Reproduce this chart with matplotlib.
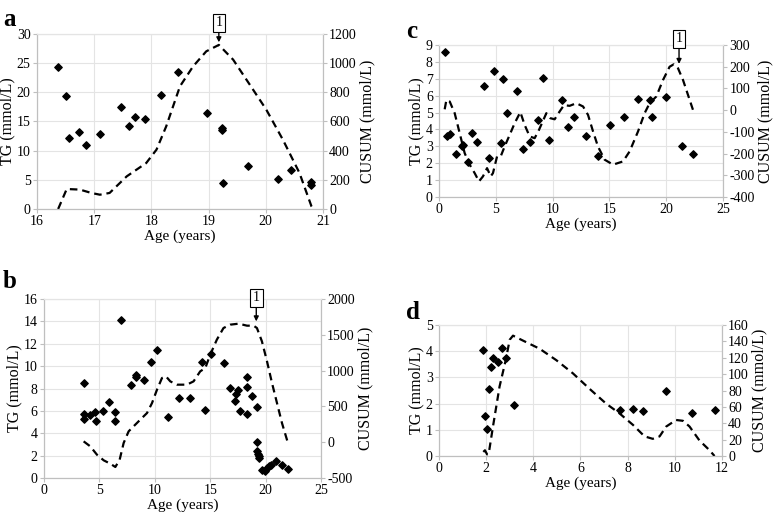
import numpy as np
import matplotlib
matplotlib.use("Agg")
import matplotlib.pyplot as plt

plt.rcParams['font.family'] = ['Liberation Serif', 'DejaVu Serif']
plt.rcParams['axes.unicode_minus'] = False

# panel a
a_age = [16.37, 16.50, 16.56, 16.73, 16.86, 17.11, 17.47, 17.61, 17.71, 17.89, 18.17,
         18.47, 18.98, 19.23, 19.23, 19.25, 19.69, 20.21, 20.45, 20.80, 20.80]
a_tg = [24.3, 19.3, 12.2, 13.2, 10.9, 12.8, 17.5, 14.3, 15.7, 15.4, 19.5,
        23.4, 16.4, 13.8, 13.5, 4.5, 7.4, 5.1, 6.6, 4.7, 4.1]
a_cx = [16.37, 16.52, 16.75, 16.95, 17.10, 17.27, 17.57, 17.91, 18.09, 18.26, 18.50,
        18.73, 18.96, 19.18, 19.43, 19.72, 20.01, 20.30, 20.59, 20.80, 20.83]
a_cy = [0, 137, 133, 110, 98, 110, 224, 315, 407, 567, 841,
        978, 1081, 1125, 1024, 853, 681, 475, 247, 18, 0]

# panel b
b_age = [3.58, 3.61, 3.61, 4.12, 4.63, 4.66, 5.29, 5.87, 6.38, 6.38, 6.95, 7.82, 8.27,
         8.30, 9.06, 9.63, 10.17, 11.19, 12.21, 13.21, 14.23, 14.53, 15.04, 16.28,
         16.79, 17.21, 17.36, 17.48, 17.72, 18.29, 18.29, 18.32, 18.80, 19.22, 19.25,
         19.25, 19.31, 19.37, 19.40, 19.67, 19.92, 20.13, 20.31, 20.49, 20.91, 21.48, 22.0]
b_tg = [8.49, 5.75, 5.30, 5.66, 5.87, 5.07, 5.99, 6.79, 5.90, 5.13, 14.09, 8.34, 9.24,
        9.03, 8.79, 10.37, 11.47, 5.48, 7.12, 7.12, 10.40, 6.08, 11.08, 10.31,
        8.02, 6.91, 7.54, 7.90, 5.96, 9.00, 8.10, 5.69, 7.33, 6.32, 3.19,
        2.44, 2.18, 1.94, 1.80, 0.74, 0.66, 0.86, 1.04, 1.16, 1.52, 1.19, 0.80]
b_cx = [3.58, 4.18, 4.78, 5.39, 5.99, 6.44, 6.83, 7.19, 7.64, 8.09, 8.69, 9.30, 9.75,
        10.20, 10.65, 11.01, 11.40, 12.0, 12.9, 13.5, 14.1, 14.56, 15.0, 15.6, 16.2,
        16.8, 17.57, 18.32, 18.92, 19.22, 19.67, 20.13, 20.58, 21.03, 21.48, 22.0]
b_cy = [12, -58, -174, -253, -300, -346, -244, -11, 152, 222, 315, 408, 547,
        734, 897, 920, 850, 804, 804, 850, 990, 1036, 1222, 1432, 1595,
        1642, 1656, 1628, 1628, 1595, 1409, 1129, 827, 547, 268, -2]

# panel c
c_age = [0.50, 0.70, 0.97, 1.47, 2.00, 2.10, 2.52, 2.88, 3.35, 3.93, 4.37, 4.87, 5.43,
         5.66, 5.96, 6.90, 7.42, 7.98, 8.71, 9.18, 9.65, 10.83, 11.38, 11.91, 12.94,
         13.99, 15.05, 16.28, 17.52, 18.57, 18.72, 19.98, 21.36, 22.36]
c_tg = [8.57, 3.62, 3.72, 2.52, 3.05, 3.10, 2.05, 3.82, 3.23, 6.58, 2.32, 7.44, 3.19,
        7.01, 4.96, 6.28, 2.86, 3.23, 4.55, 7.05, 3.35, 5.75, 4.16, 4.75, 3.60,
        2.44, 4.27, 4.73, 5.83, 5.75, 4.75, 5.93, 3.05, 2.56]
c_cx = [0.50, 0.65, 0.94, 1.38, 1.82, 2.26, 2.70, 3.14, 3.52, 3.87, 4.23, 4.55, 4.75,
        5.11, 5.43, 5.78, 6.22, 6.66, 7.16, 7.54, 7.98, 8.42, 8.80, 9.45, 9.80,
        10.18, 10.62, 11.00, 11.50, 12.09, 12.68, 13.12, 13.56, 13.99, 14.58, 15.32,
        16.20, 16.78, 17.52, 18.10, 18.54, 19.13, 19.72, 20.30, 20.66, 21.04, 21.48,
        21.92, 22.36]
c_cy = [4, 47, 40, -14, -106, -198, -251, -290, -328, -305, -267, -305, -290,
        -213, -213, -167, -114, -60, -9, -68, -121, -129, -91, -14, -37,
        -42, -6, 23, 20, 32, 17, -22, -98, -167, -228, -251,
        -236, -190, -98, -14, 32, 63, 139, 200, 211, 193, 139,
        70, 1]

# panel d
d_age = [1.88, 1.96, 2.02, 2.11, 2.19, 2.30, 2.50, 2.67, 2.83, 3.17,
         7.66, 8.21, 8.66, 9.63, 10.73, 11.69]
d_tg = [4.05, 1.52, 1.05, 2.56, 3.39, 3.74, 3.58, 4.14, 3.74, 1.93,
        1.76, 1.78, 1.71, 2.47, 1.64, 1.76]
d_cx = [1.88, 1.95, 2.04, 2.11, 2.29, 2.57, 2.83, 3.00, 3.14, 3.56, 4.27, 4.98, 5.68,
        6.39, 7.09, 7.66, 8.23, 8.72, 9.07, 9.36, 9.64, 10.06, 10.35, 10.63, 11.05,
        11.48, 11.69]
d_cy = [5, 7, 2, 3, 36, 85, 117, 142, 147, 141, 131, 117, 101,
        82, 64, 52, 38, 24, 21, 24, 36, 44, 43, 36, 19,
        7, 0]

panels = [
    # letter, rect, age, tg, cx, cy, xlim, xstep, ylim, ystep, y2lim, y2step, box
    ('a', [0.0476, 0.5934, 0.368, 0.3405], a_age, a_tg, a_cx, a_cy,
     (16, 21), 1, (0, 30), 5, (0, 1200), 200, (19.18, 1143, 1.063)),
    ('c', [0.565, 0.6167, 0.3655, 0.2957], c_age, c_tg, c_cx, c_cy,
     (0, 25), 5, (0, 9), 1, (-400, 300), 100, (21.13, 213, 1.04)),
    ('b', [0.0566, 0.070, 0.3565, 0.3482], b_age, b_tg, b_cx, b_cy,
     (0, 25), 5, (0, 16), 2, (-500, 2000), 500, (19.16, 1688, 1.006)),
    ('d', [0.565, 0.1128, 0.364, 0.2549], d_age, d_tg, d_cx, d_cy,
     (0, 12), 2, (0, 5), 1, (0, 160), 20, None),
]

letter_pos = {'a': (0.004, 0.985), 'c': (0.523, 0.962), 'b': (0.004, 0.474), 'd': (0.523, 0.414)}

spine_col = '#bfbfbf'
grid_col = '#e4e4e4'

fig = plt.figure(figsize=(7.77, 5.14), dpi=100)

for (letter, rect, age, tg, cx, cy, xlim, xstep, ylim, ystep,
     y2lim, y2step, box) in panels:
    ax = fig.add_axes(rect)
    ax2 = ax.twinx()

    ax.scatter(age, tg, marker='D', s=14, color='black', zorder=3, clip_on=False)
    ax2.plot(cx, cy, color='black', lw=1.6, ls=(0, (3.4, 2.2)), clip_on=False)

    ax.set_xlim(*xlim)
    ax.set_ylim(*ylim)
    ax2.set_ylim(*y2lim)
    ax.set_xticks(np.arange(xlim[0], xlim[1] + xstep / 2, xstep))
    ax.set_yticks(np.arange(ylim[0], ylim[1] + ystep / 2, ystep))
    ax2.set_yticks(np.arange(y2lim[0], y2lim[1] + y2step / 2, y2step))

    ax.grid(True, color=grid_col, lw=0.8)
    ax.set_axisbelow(True)
    for a_ in (ax, ax2):
        for side in ('left', 'right', 'bottom'):
            a_.spines[side].set_color(spine_col)
        a_.spines['top'].set_color(grid_col)
        a_.tick_params(colors=spine_col, labelcolor='black', labelsize=10,
                       length=3, pad=1.5)

    ax.set_xlabel('Age (years)', fontsize=11, labelpad=1)
    ax.set_ylabel('TG (mmol/L)', fontsize=11.5, labelpad=1)
    ax2.set_ylabel('CUSUM (mmol/L)', fontsize=11.5, labelpad=2)

    if box is not None:
        bx, tip, by = box
        ax2.annotate('1', xy=(bx, tip), xycoords='data',
                     xytext=(bx, by), textcoords=('data', 'axes fraction'),
                     ha='center', va='center', fontsize=10,
                     bbox=dict(boxstyle='square,pad=0.2', fc='white', ec='black', lw=0.8),
                     arrowprops=dict(arrowstyle='-|>', color='black', lw=1.0,
                                     shrinkA=0, shrinkB=0, mutation_scale=7),
                     annotation_clip=False)

    lx, ly = letter_pos[letter]
    fig.text(lx, ly, letter, fontsize=18, fontweight='bold', ha='left', va='top')

fig.savefig('out.png', dpi=100)
